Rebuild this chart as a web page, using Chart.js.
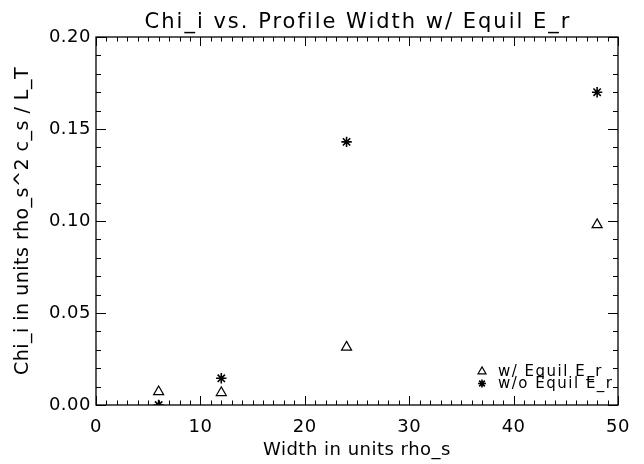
<!DOCTYPE html>
<html>
<head>
<meta charset="utf-8">
<script src="https://cdn.jsdelivr.net/npm/chart.js@4.4.1/dist/chart.umd.min.js"></script>
<style>
  html, body { margin: 0; padding: 0; background: #fff; }
</style>
</head>
<body>
<canvas id="chi_chart" width="644" height="464"></canvas>
<script>
// values
var widths = [6, 12, 24, 48];
var chi_equil = [0.0072, 0.0067, 0.0314, 0.098];
var chi_no_equil = [0.0, 0.0145, 0.143, 0.170];
var series_labels = ["w/ Equil E_r", "w/o Equil E_r"];
var x_ticks = [0, 10, 20, 30, 40, 50];
var y_ticks = [0.00, 0.05, 0.10, 0.15, 0.20];
var title_text = "Chi_i vs. Profile Width w/ Equil E_r";
var x_title = "Width in units rho_s";
var y_title = "Chi_i in units rho_s^2 c_s / L_T";

function to_points(xs, ys)
{
    return xs.map(function(x, i) { return { x: x, y: ys[i] }; });
}

function draw_marker(ctx, ds, x, y, radius)
{
    ctx.save();
    ctx.strokeStyle = ds.borderColor;
    ctx.fillStyle = ds.backgroundColor;
    ctx.lineWidth = ds.borderWidth;
    Chart.helpers.drawPoint(ctx, {
	pointStyle: ds.pointStyle,
	rotation: 0,
	radius: radius,
	borderWidth: ds.borderWidth
    }, x, y);
    ctx.restore();
}

// IDL style frame: box on all four sides with inward ticks
var idl_frame = {
    id: 'idl_frame',
    beforeDraw: function(chart) {
	chart.ctx.letterSpacing = '0.5px';
    },
    afterDatasetsDraw: function(chart) {
	var ctx = chart.ctx, a = chart.chartArea;
	var xs = chart.scales.x, ys = chart.scales.y;
	ctx.save();
	ctx.strokeStyle = '#000';
	ctx.lineWidth = 1.3;
	ctx.strokeRect(a.left, a.top, a.right - a.left, a.bottom - a.top);
	ctx.lineWidth = 1;
	ctx.beginPath();
	var nx = Math.round(xs.max - xs.min);
	for (var i = 0; i <= nx; i++) {
	    var px = Math.round(xs.getPixelForValue(xs.min + i)) + 0.5;
	    var len = (i % 10 == 0) ? 9 : 4.5;
	    ctx.moveTo(px, a.bottom); ctx.lineTo(px, a.bottom - len);
	    ctx.moveTo(px, a.top); ctx.lineTo(px, a.top + len);
	}
	var ny = Math.round((ys.max - ys.min) / 0.01);
	for (var j = 0; j <= ny; j++) {
	    var py = Math.round(ys.getPixelForValue(ys.min + j * 0.01)) + 0.5;
	    var ylen = (j % 5 == 0) ? 10 : 5;
	    ctx.moveTo(a.left, py); ctx.lineTo(a.left + ylen, py);
	    ctx.moveTo(a.right, py); ctx.lineTo(a.right - ylen, py);
	}
	ctx.stroke();
	ctx.restore();
    },
    afterDraw: function(chart) {
	var ctx = chart.ctx, a = chart.chartArea;
	ctx.save();
	ctx.fillStyle = '#000';
	ctx.letterSpacing = '2px';
	ctx.font = '21px "DejaVu Sans"';
	ctx.textAlign = 'center';
	ctx.textBaseline = 'alphabetic';
	ctx.fillText(title_text, (a.left + a.right) / 2 + 1, 28);

	// legend in the lower right corner
	ctx.letterSpacing = '1.5px';
	ctx.font = '15px "DejaVu Sans"';
	ctx.textAlign = 'left';
	var rows = [376, 388];
	var sizes = [4.6, 4];
	chart.data.datasets.forEach(function(ds, i) {
	    draw_marker(ctx, ds, 482, rows[i] - 4.5, sizes[i]);
	    ctx.fillText(ds.label, 498, rows[i]);
	});
	ctx.restore();
    }
};

var ctx = document.getElementById('chi_chart');

new Chart(ctx, {
    type: 'scatter',
    data: {
	datasets: [{
	    label: series_labels[0],
	    data: to_points(widths, chi_equil),
	    pointStyle: 'triangle',
	    pointRadius: 5.8,
	    borderColor: '#000',
	    backgroundColor: '#fff',
	    borderWidth: 1.2,
	    clip: 0
	}, {
	    label: series_labels[1],
	    data: to_points(widths, chi_no_equil),
	    pointStyle: 'star',
	    pointRadius: 5.2,
	    borderColor: '#000',
	    backgroundColor: '#000',
	    borderWidth: 1.6,
	    clip: 0
	}]
    },
    options: {
	responsive: false,
	animation: false,
	layout: {
	    padding: { top: 37, right: 26, left: 0, bottom: 0 }
	},
	plugins: {
	    legend: { display: false },
	    title: { display: false },
	    tooltip: { enabled: false }
	},
	scales: {
	    x: {
		type: 'linear',
		min: x_ticks[0],
		max: x_ticks[x_ticks.length - 1],
		afterBuildTicks: function(scale) {
		    scale.ticks = x_ticks.map(function(v) { return { value: v }; });
		},
		afterFit: function(scale) { scale.height = 59; },
		grid: { display: false, drawTicks: false },
		border: { display: false },
		ticks: {
		    color: '#000',
		    padding: 12,
		    maxRotation: 0,
		    font: { family: 'DejaVu Sans', size: 18 }
		},
		title: {
		    display: true,
		    text: x_title,
		    color: '#000',
		    padding: { top: 0, bottom: 3 },
		    font: { family: 'DejaVu Sans', size: 18 }
		}
	    },
	    y: {
		type: 'linear',
		min: y_ticks[0],
		max: y_ticks[y_ticks.length - 1],
		afterBuildTicks: function(scale) {
		    scale.ticks = y_ticks.map(function(v) { return { value: v }; });
		},
		afterFit: function(scale) { scale.width = 96; },
		grid: { display: false, drawTicks: false },
		border: { display: false },
		ticks: {
		    color: '#000',
		    padding: 5,
		    font: { family: 'DejaVu Sans', size: 18 },
		    callback: function(v) { return v.toFixed(2); }
		},
		title: {
		    display: true,
		    text: y_title,
		    color: '#000',
		    padding: { top: 12, bottom: 0 },
		    font: { family: 'DejaVu Sans', size: 19 }
		}
	    }
	}
    },
    plugins: [idl_frame]
});
</script>
</body>
</html>
